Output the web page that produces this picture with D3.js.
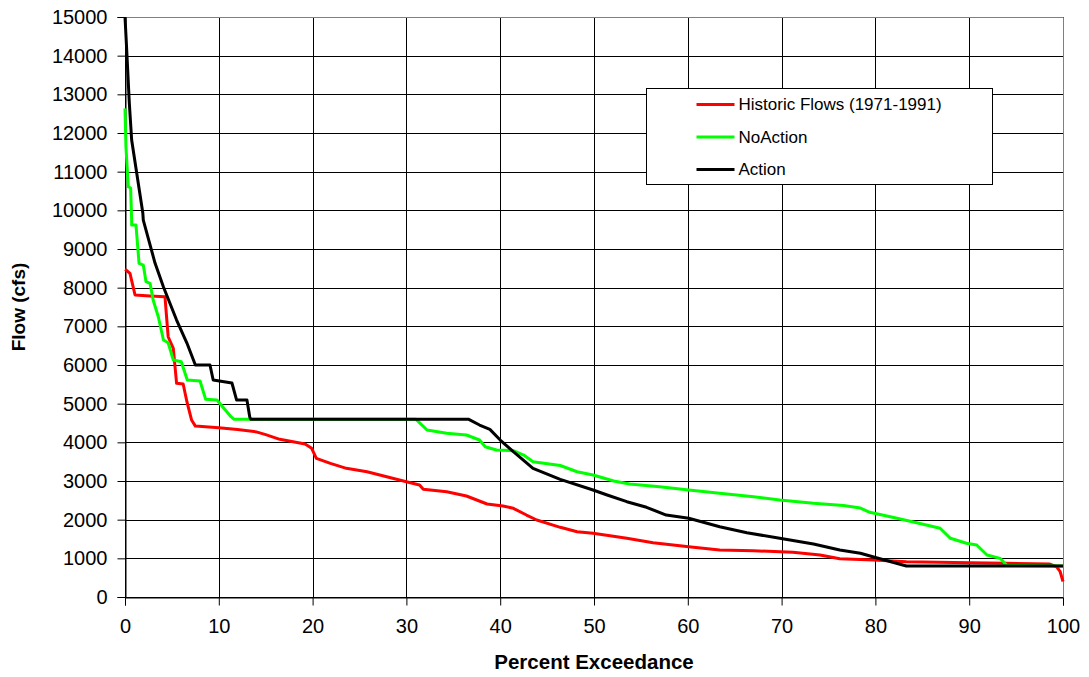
<!DOCTYPE html>
<html>
<head>
<meta charset="utf-8">
<script src="https://cdn.jsdelivr.net/npm/d3@7"></script>
<style>
  body { margin: 0; background: #fff; }
  svg { display: block; font-family: "Liberation Sans", Arial, sans-serif; }
</style>
</head>
<body>
<div id="chart"></div>
<script>
// Series values: [percent exceedance, flow cfs]
const historic = [
  [0, 8470], [0.1, 8456], [0.53, 8371], [1.07, 7810], [2.67, 7784], [4.26, 7766],
  [4.6, 6731], [5.15, 6430], [5.5, 5526], [6.2, 5508], [6.6, 5051], [7.1, 4577],
  [7.5, 4420], [10, 4380], [12, 4330], [14, 4270], [15, 4200], [16.5, 4078],
  [19.2, 3957], [19.9, 3845], [20.4, 3587], [21.9, 3457], [23.6, 3328], [25.8, 3240],
  [27.9, 3111], [30.0, 2982], [31.4, 2896], [31.8, 2785], [34.3, 2723], [36.4, 2612],
  [38.6, 2405], [40.3, 2353], [41.4, 2294], [42.8, 2120], [43.9, 1991], [46.4, 1802],
  [48.2, 1689], [49.9, 1647], [53.5, 1518], [56.3, 1404], [60.1, 1301], [63.4, 1215],
  [67.0, 1197], [71.2, 1156], [74.1, 1086], [76.2, 990], [79.8, 957], [83.3, 913],
  [90.1, 887], [94.0, 870], [98.6, 853], [99.3, 784], [99.7, 654], [100, 400]
];

const noAction = [
  [0, 12637], [0.1, 11645], [0.35, 10610], [0.6, 10577], [0.71, 9749], [0.71, 9620],
  [1.17, 9620], [1.5, 8630], [1.95, 8585], [2.24, 8154], [2.67, 8112], [3.0, 7680],
  [3.55, 7248], [4.1, 6646], [4.6, 6576], [5.15, 6129], [6.0, 6085], [6.64, 5612],
  [8.0, 5586], [8.6, 5112], [9.8, 5094], [11.3, 4663], [11.6, 4600], [31.0, 4600],
  [32.2, 4318], [34.3, 4233], [36.4, 4189], [37.8, 4060], [38.4, 3887], [39.6, 3801],
  [41.4, 3783], [42.5, 3672], [43.5, 3499], [46.4, 3400], [48.2, 3240], [49.9, 3155],
  [52.1, 3000], [53.8, 2922], [57.0, 2853], [60.1, 2767], [63.4, 2682], [67.0, 2594],
  [69.8, 2508], [73.4, 2423], [76.6, 2365], [78.4, 2300], [79.4, 2190], [82.3, 2035],
  [84.4, 1921], [86.9, 1777], [88.0, 1518], [89.7, 1389], [90.8, 1345], [91.9, 1086],
  [93.3, 1000], [94.0, 820], [100, 800]
];

const action = [
  [0, 15000], [0.15, 14300], [0.46, 12775], [0.71, 11818], [1.9, 9930], [1.95, 9749],
  [3.2, 8637], [4.1, 8016], [5.5, 7163], [6.6, 6568], [7.5, 6000], [9.06, 6000],
  [9.4, 5612], [11.4, 5534], [11.9, 5094], [13.0, 5094], [13.3, 4655], [13.4, 4600],
  [36.6, 4600], [37.8, 4448], [38.9, 4336], [40.0, 4060], [41.4, 3758], [43.5, 3328],
  [46.4, 3043], [49.9, 2767], [51.4, 2638], [53.5, 2465], [55.6, 2320], [57.7, 2120],
  [60.1, 2035], [63.4, 1818], [66.3, 1663], [69.8, 1518], [73.4, 1371], [76.2, 1215],
  [78.4, 1130], [80.1, 1016], [83.3, 802], [100, 800]
];

const seriesNames = ["Historic Flows (1971-1991)", "NoAction", "Action"];
const seriesColors = ["#ff0000", "#00ff00", "#000000"];
const xTicks = [0, 10, 20, 30, 40, 50, 60, 70, 80, 90, 100];
const yTicks = d3.range(0, 15001, 1000);

const W = 1089, H = 677;
const margin = { top: 17, right: 26, bottom: 80, left: 125 };
const width = W - margin.left - margin.right;
const height = H - margin.top - margin.bottom;

const svg = d3.select("#chart").append("svg")
  .attr("width", W)
  .attr("height", H);

const g = svg.append("g")
  .attr("transform", `translate(${margin.left},${margin.top})`);

const x = d3.scaleLinear().domain([0, 100]).range([0, width]);
const y = d3.scaleLinear().domain([0, 15000]).range([height, 0]);

// grid lines
g.append("g")
  .selectAll("line")
  .data(yTicks)
  .join("line")
  .attr("x1", 0).attr("x2", width)
  .attr("y1", d => Math.round(y(d)) + 0.5).attr("y2", d => Math.round(y(d)) + 0.5)
  .attr("stroke", "#000").attr("stroke-width", 1);

g.append("g")
  .selectAll("line")
  .data(xTicks)
  .join("line")
  .attr("x1", d => Math.round(x(d)) + 0.5).attr("x2", d => Math.round(x(d)) + 0.5)
  .attr("y1", 0).attr("y2", height)
  .attr("stroke", "#000").attr("stroke-width", 1);

// plot border (top/right gray)
g.append("path")
  .attr("d", `M0.5,0.5H${width + 0.5}V${height + 0.5}`)
  .attr("fill", "none")
  .attr("stroke", "#808080");

// axes
const yAxis = g.append("g")
  .attr("transform", "translate(0.5,0)")
  .call(d3.axisLeft(y).tickValues(yTicks).tickSize(8).tickPadding(10).tickFormat(d3.format("d")));
const xAxis = g.append("g")
  .attr("transform", `translate(0,${Math.round(height) + 0.5})`)
  .call(d3.axisBottom(x).tickValues(xTicks).tickSize(8).tickPadding(13).tickFormat(d3.format("d")));

[yAxis, xAxis].forEach(a => {
  a.select(".domain").attr("stroke", "#000");
  a.selectAll(".tick line").attr("stroke", "#000");
  a.selectAll(".tick text")
    .attr("fill", "#000")
    .style("font-size", "20px")
    .style("font-family", "'Liberation Sans', Arial, sans-serif");
});

// lines
const line = d3.line().x(d => x(d[0])).y(d => y(d[1]));
[historic, noAction, action].forEach((data, i) => {
  g.append("path")
    .datum(data)
    .attr("fill", "none")
    .attr("stroke", seriesColors[i])
    .attr("stroke-width", 3)
    .attr("stroke-linejoin", "round")
    .attr("d", line);
});

// axis titles
svg.append("text")
  .attr("x", margin.left + width / 2)
  .attr("y", 669)
  .attr("text-anchor", "middle")
  .style("font-size", "20.5px")
  .style("font-weight", "bold")
  .text("Percent Exceedance");

svg.append("text")
  .attr("transform", `translate(25,${margin.top + height / 2}) rotate(-90)`)
  .attr("text-anchor", "middle")
  .style("font-size", "19px")
  .style("font-weight", "bold")
  .text("Flow (cfs)");

// legend
const legend = svg.append("g").attr("transform", "translate(646.5,88.5)");
legend.append("rect")
  .attr("width", 346).attr("height", 96)
  .attr("fill", "#fff").attr("stroke", "#000");

const items = legend.selectAll(".legend-item")
  .data(seriesNames)
  .join("g")
  .attr("class", "legend-item")
  .attr("transform", (d, i) => `translate(0,${16 + i * 32.5})`);

items.append("line")
  .attr("x1", 50).attr("x2", 88)
  .attr("stroke", (d, i) => seriesColors[i])
  .attr("stroke-width", 3);

items.append("text")
  .attr("x", 92)
  .attr("dy", "0.35em")
  .style("font-size", "17px")
  .text(d => d);
</script>
</body>
</html>
